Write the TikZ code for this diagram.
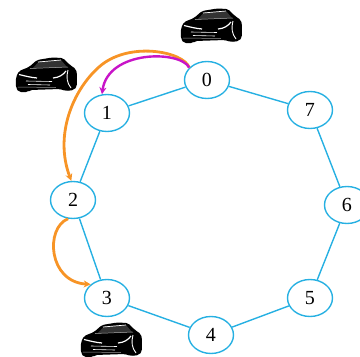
\documentclass[tikz,border=0pt]{standalone}
\usepackage{fontspec}
\setmainfont{Liberation Serif}
\usetikzlibrary{shapes.geometric,arrows.meta}

\definecolor{ringblue}{RGB}{38,176,226}
\definecolor{hoporange}{RGB}{247,148,38}
\definecolor{hopmagenta}{RGB}{200,20,200}

\tikzset{
  station/.style={ellipse, draw=ringblue, line width=1.4pt, fill=white,
    minimum width=45pt, minimum height=37pt, inner sep=0pt,
    font=\fontsize{20}{20}\selectfont},
  ring/.style={draw=ringblue, line width=1.4pt},
  hop/.style={line width=2.8pt, -{Stealth[length=7pt,width=7pt]}},
  car/.pic={
    % body silhouette
    \fill[black, rounded corners=2pt]
      (0,20) -- (3,14) -- (13,10) -- (21,3) -- (36,0.5) -- (47,1) -- (54,8)
      -- (60,12) -- (61,17) -- (61,29) -- (58,33) -- (50,34) -- (44,32)
      -- (14,33) -- (12,35) -- (3,35) -- (0,31) -- cycle;
    % windshield
    \fill[black!80] (17,11) -- (23,4.5) -- (45,3) -- (51,10) -- cycle;
    \draw[white, line width=0.7pt] (22,5) -- (45,3);
    \draw[white!70!black, line width=0.5pt] (14,11.5) -- (52,10);
    % headlights
    \draw[white, line width=1.2pt] (3,17.5) .. controls (9,19) and (15,20.5) .. (21,21);
    \draw[white, line width=1.2pt] (37,21) .. controls (43,20.5) and (47,18) .. (50,14);
    % grille
    \draw[white, line width=0.6pt] (10,24) -- (36,24.5);
    \draw[white, line width=0.6pt] (12,27.5) -- (34,28);
    % side contour
    \draw[white, line width=0.9pt] (52,13) .. controls (50,20) and (51,26) .. (55,31);
    \draw[white!60!black, line width=0.5pt] (2,30) -- (40,30.5);
  }
}

\begin{document}
\begin{tikzpicture}[x=1pt, y=-1pt]
  \useasboundingbox (0,0) rectangle (360,357);

  % cars
  \pic at (181,8) {car};
  \pic at (16,57) {car};
  \pic at (81,322) {car};

  % stations on the ring
  \node[station] (n0) at (207,80)  {0};
  \node[station] (n1) at (107,113) {1};
  \node[station] (n2) at (73,200)  {2};
  \node[station] (n3) at (107,298) {3};
  \node[station] (n4) at (211,335) {4};
  \node[station] (n5) at (310,298) {5};
  \node[station] (n6) at (347,205) {6};
  \node[station] (n7) at (310,110) {7};

  % ring links
  \draw[ring] (n0) -- (n1);
  \draw[ring] (n1) -- (n2);
  \draw[ring] (n2) -- (n3);
  \draw[ring] (n3) -- (n4);
  \draw[ring] (n4) -- (n5);
  \draw[ring] (n5) -- (n6);
  \draw[ring] (n6) -- (n7);
  \draw[ring] (n7) -- (n0);

  % hops
  \draw[hop, hoporange] (n0.145) .. controls (183,51) and (128,41) .. (99,67)
    .. controls (73,90) and (54,135) .. (n2.95);
  \draw[hop, hopmagenta, line width=2.4pt] (n0.145) .. controls (180,50) and (108,50) .. (n1.105);
  \draw[hop, hoporange] (n2.255) .. controls (45,228) and (48,282) .. (n3.140);
\end{tikzpicture}
\end{document}
